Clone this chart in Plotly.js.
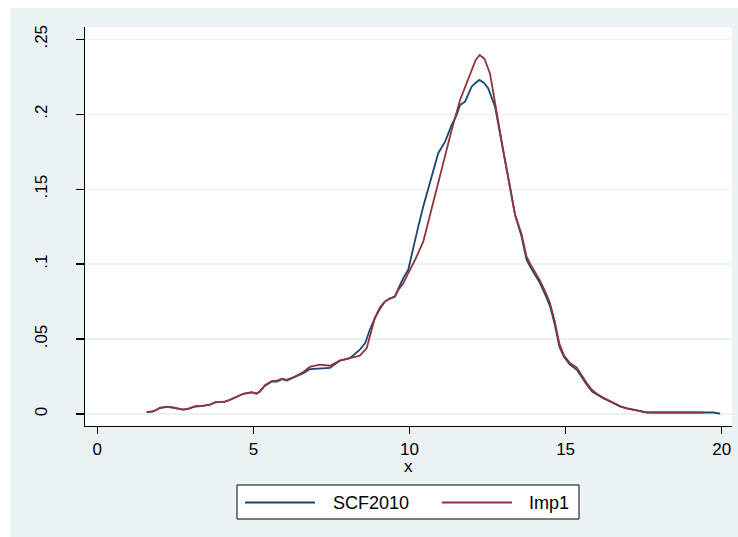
<!DOCTYPE html>
<html>
<head>
<meta charset="utf-8">
<script src="https://cdn.plot.ly/plotly-3.0.1.min.js"></script>
<style>html,body{margin:0;padding:0;background:#fff;}#chart{width:738px;height:537px;}</style>
</head>
<body>
<div id="chart"></div>
<script>
// SCF2010 density
const scfX = [1.58,1.79,2.01,2.22,2.38,2.6,2.75,2.92,3.13,3.4,3.61,3.77,4.09,4.25,4.46,4.68,4.95,5.1,5.21,5.37,5.59,5.75,5.91,6.07,6.33,6.6,6.81,7.13,7.45,7.77,8.09,8.41,8.58,8.73,8.89,9.05,9.21,9.37,9.53,9.65,9.8,9.96,10.12,10.28,10.44,10.6,10.76,10.92,11.14,11.35,11.5,11.62,11.78,11.99,12.12,12.24,12.38,12.52,12.74,13.0,13.22,13.38,13.59,13.75,13.9,14.07,14.18,14.34,14.5,14.65,14.8,14.95,15.14,15.36,15.5,15.68,15.85,16.0,16.2,16.42,16.6,16.74,16.95,17.17,17.4,17.6,18.0,18.5,19.0,19.5,19.73,19.95];
const scfY = [0.0013,0.0017,0.004,0.0047,0.0044,0.0035,0.0029,0.0035,0.005,0.0055,0.0062,0.0077,0.0082,0.0095,0.0117,0.0135,0.0144,0.0135,0.015,0.0189,0.0217,0.0217,0.0233,0.0224,0.0247,0.0273,0.030,0.0305,0.0307,0.0357,0.0373,0.0429,0.0473,0.0562,0.064,0.070,0.075,0.077,0.0784,0.084,0.0907,0.0962,0.1117,0.125,0.1384,0.150,0.1607,0.174,0.1817,0.1929,0.199,0.2062,0.2084,0.2184,0.221,0.2229,0.221,0.2173,0.2051,0.176,0.152,0.133,0.1184,0.1029,0.097,0.0907,0.0873,0.080,0.072,0.060,0.045,0.038,0.033,0.0295,0.025,0.0195,0.015,0.0129,0.0105,0.0084,0.0065,0.0051,0.0038,0.0029,0.002,0.0011,0.001,0.001,0.001,0.001,0.001,0.0002];
// Imp1 density
const impX = [1.58,1.79,2.01,2.22,2.38,2.6,2.75,2.92,3.13,3.4,3.61,3.77,4.09,4.25,4.46,4.68,4.95,5.1,5.21,5.37,5.59,5.75,5.91,6.07,6.33,6.6,6.81,7.13,7.45,7.77,8.09,8.41,8.63,8.79,8.89,9.05,9.21,9.37,9.53,9.65,9.8,9.96,10.18,10.44,10.6,10.76,11.03,11.35,11.62,11.94,12.12,12.25,12.4,12.58,12.79,13.0,13.22,13.38,13.59,13.75,13.9,14.07,14.18,14.34,14.5,14.65,14.8,14.95,15.14,15.36,15.5,15.68,15.85,16.0,16.2,16.42,16.6,16.74,16.95,17.17,17.4,17.6,18.0,18.5,19.0,19.41];
const impY = [0.0013,0.0017,0.0042,0.0048,0.0045,0.0036,0.0029,0.0036,0.0051,0.0056,0.0063,0.0078,0.0083,0.0094,0.0115,0.0135,0.0146,0.0137,0.0152,0.0192,0.022,0.0222,0.0236,0.0228,0.025,0.028,0.0315,0.0329,0.0322,0.0357,0.0373,0.0389,0.044,0.0573,0.064,0.071,0.075,0.077,0.0784,0.083,0.0873,0.094,0.1029,0.115,0.128,0.1429,0.165,0.1895,0.2095,0.2273,0.2362,0.2395,0.237,0.227,0.2007,0.176,0.1515,0.133,0.12,0.105,0.099,0.093,0.089,0.082,0.074,0.062,0.047,0.039,0.034,0.031,0.026,0.0205,0.016,0.0135,0.011,0.0088,0.007,0.0053,0.004,0.003,0.0018,0.001,0.001,0.001,0.001,0.001];

const seriesNames = ['SCF2010', 'Imp1'];
const xTicks = [0, 5, 10, 15, 20];
const yTickVals = [0, 0.05, 0.1, 0.15, 0.2, 0.25];
const yTickText = ['0', '.05', '.1', '.15', '.2', '.25'];
const xTitle = 'x';

const blue = '#1A476F', red = '#90353B', bg = '#EAF2F3';
const font = {family: 'Liberation Sans, Arial, sans-serif', size: 17, color: '#000'};

// pixel helpers for decorations (plot area: x 85..732, y 27..426)
const L = 85, R = 6, T = 27, B = 111, W = 738, H = 537;
const pw = W - L - R, ph = H - T - B;
const px = v => (v - L) / pw;
const py = v => (H - B - v) / ph;

const traces = [
  {x: scfX, y: scfY, name: seriesNames[0], type: 'scatter', mode: 'lines', line: {color: blue, width: 1.8}, showlegend: false},
  {x: impX, y: impY, name: seriesNames[1], type: 'scatter', mode: 'lines', line: {color: red, width: 1.8}, showlegend: false}
];

const legY = py(502.5);
const layout = {
  width: W, height: H,
  margin: {l: L, r: R, t: T, b: B},
  paper_bgcolor: bg,
  plot_bgcolor: '#fff',
  font: font,
  showlegend: false,
  xaxis: {
    range: [-0.394, 20.33], tickvals: xTicks, ticks: 'outside', ticklen: 7, tickwidth: 1.3, tickcolor: '#000',
    showline: true, linecolor: '#000', linewidth: 1.3, showgrid: false, zeroline: false,
    tickfont: font, ticklabelstandoff: 0
  },
  yaxis: {
    range: [-0.008, 0.2582], tickvals: yTickVals, ticktext: yTickText, tickangle: -90,
    ticks: 'outside', ticklen: 8, tickwidth: 1.3, tickcolor: '#000',
    showline: true, linecolor: '#000', linewidth: 1.3, showgrid: true, gridcolor: bg, gridwidth: 1.3,
    zeroline: false, tickfont: font, ticklabelstandoff: 22
  },
  shapes: [
    {type: 'rect', xref: 'paper', yref: 'paper', x0: px(0), x1: px(W), y0: py(0), y1: py(8), fillcolor: '#fff', line: {width: 0}, layer: 'below'},
    {type: 'rect', xref: 'paper', yref: 'paper', x0: px(0), x1: px(10), y0: py(0), y1: py(H), fillcolor: '#fff', line: {width: 0}, layer: 'below'},
    {type: 'rect', xref: 'paper', yref: 'paper', x0: px(237), x1: px(579), y0: py(519), y1: py(485), fillcolor: '#fff', line: {color: '#000', width: 1}},
    {type: 'line', xref: 'paper', yref: 'paper', x0: px(245), x1: px(315), y0: legY, y1: legY, line: {color: blue, width: 1.8}},
    {type: 'line', xref: 'paper', yref: 'paper', x0: px(442), x1: px(512), y0: legY, y1: legY, line: {color: red, width: 1.8}}
  ],
  annotations: [
    {xref: 'paper', yref: 'paper', x: px(408), y: py(466), xanchor: 'center', yanchor: 'middle', text: xTitle, showarrow: false, font: font},
    {xref: 'paper', yref: 'paper', x: px(331), y: legY, xanchor: 'left', yanchor: 'middle', text: seriesNames[0], showarrow: false, font: {family: font.family, size: 18, color: '#000'}},
    {xref: 'paper', yref: 'paper', x: px(527), y: legY, xanchor: 'left', yanchor: 'middle', text: seriesNames[1], showarrow: false, font: {family: font.family, size: 18, color: '#000'}}
  ]
};

Plotly.newPlot('chart', traces, layout, {displayModeBar: false, staticPlot: true});
</script>
</body>
</html>
